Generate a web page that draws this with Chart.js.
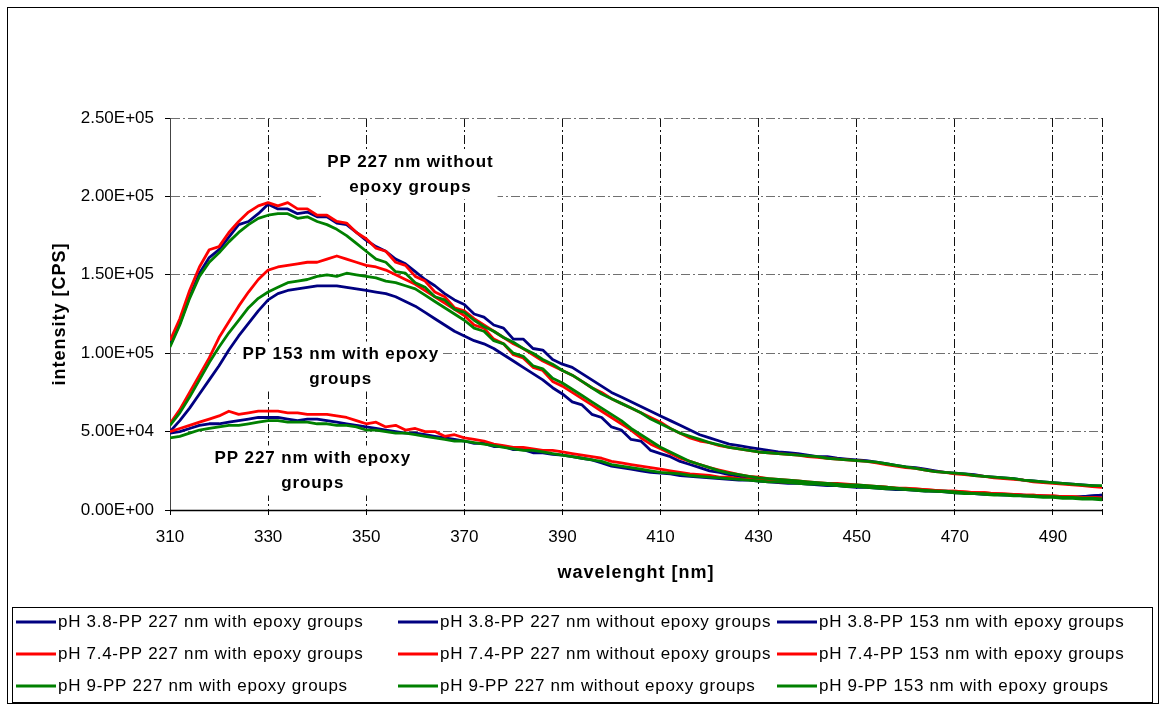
<!DOCTYPE html>
<html>
<head>
<meta charset="utf-8">
<title>Fluorescence spectra</title>
<script src="https://cdn.jsdelivr.net/npm/chart.js@4.4.1/dist/chart.umd.min.js"></script>
<style>
  html, body { margin: 0; padding: 0; background: #fff; }
  #wrap { position: relative; width: 1166px; height: 709px; }
</style>
</head>
<body>
<div id="wrap"><canvas id="myChart" width="1166" height="709"></canvas></div>
<script>
// wavelength [nm]
var wavelength = [
    310, 312, 314, 316, 318, 320, 322, 324, 326, 328,
    330, 332, 334, 336, 338, 340, 342, 344, 346, 348,
    350, 352, 354, 356, 358, 360, 362, 364, 366, 368,
    370, 372, 374, 376, 378, 380, 382, 384, 386, 388,
    390, 392, 394, 396, 398, 400, 402, 404, 406, 408,
    410, 412, 414, 416, 418, 420, 422, 424, 426, 428,
    430, 432, 434, 436, 438, 440, 442, 444, 446, 448,
    450, 452, 454, 456, 458, 460, 462, 464, 466, 468,
    470, 472, 474, 476, 478, 480, 482, 484, 486, 488,
    490, 492, 494, 496, 498, 500
];

// intensity, in thousands of CPS

// PP 227 nm with epoxy groups
var ph38_227_with = [
    49, 50, 52, 54, 55, 55, 56, 57, 58, 59,
    59, 59, 58, 57, 58, 58, 57, 56, 55, 54,
    53, 52, 51, 50, 49, 49, 48, 47, 46, 45,
    44, 42.5, 42.5, 40.5, 40.5, 38.5, 38.5, 36.5, 36.5, 35.5,
    35, 34, 33, 32, 30, 28, 27, 26, 25, 24,
    23.5, 23, 22, 21.5, 21, 20.5, 20, 19.5, 19, 19,
    18.5, 18, 17.5, 17, 17, 16.5, 16, 15.5, 15.5, 15,
    14.5, 14.5, 14, 13.5, 13, 13, 12.5, 12, 12, 11.5,
    11, 11, 10.5, 10, 10, 9.5, 9.5, 9, 9, 8.5,
    8.5, 8, 8, 8.5, 9, 9.5
];
var ph74_227_with = [
    50, 52, 54, 56, 58, 60, 63, 61, 62, 63,
    63, 63, 62, 62, 61, 61, 61, 60, 59, 57,
    55, 56, 53, 54, 51, 52, 50, 50, 47, 48,
    46, 45, 44, 42, 41, 40, 40, 39, 38, 38,
    37, 36, 35, 34, 33, 31, 30, 29, 28, 27,
    26, 25, 24, 23, 22.5, 22, 21, 21, 20, 19.5,
    19, 18.5, 18, 18, 17.5, 17, 17, 16.5, 16, 16,
    15.5, 15, 15, 14.5, 14, 13.5, 13.5, 13, 12.5, 12,
    12, 11.5, 11, 11, 10.5, 10, 10, 9.5, 9.5, 9,
    9, 8.5, 8.5, 8, 8, 7.5
];
var ph9_227_with = [
    46, 47, 49, 51, 52, 53, 54, 54, 55, 56,
    57, 57, 56, 56, 56, 55, 55, 54, 54, 53,
    51, 51, 50, 49, 49, 48, 47, 46, 45, 44,
    44, 43, 42, 41, 40, 39, 38, 38, 37, 36,
    35, 34, 33, 32, 31, 29, 28, 27, 26, 25,
    24, 23.5, 23, 22, 21.5, 21, 20.5, 20, 19.5, 19,
    18.5, 18, 18, 17.5, 17, 16.5, 16.5, 16, 15.5, 15,
    15, 14.5, 14, 13.5, 13.5, 13, 12.5, 12, 12, 11.5,
    11, 10.5, 10.5, 10, 9.5, 9.5, 9, 9, 8.5, 8,
    8, 7.5, 7.5, 7, 7, 6.5
];

// PP 227 nm without epoxy groups
var ph38_227_without = [
    105, 119, 136, 151, 161, 166, 174, 182, 184, 189,
    195, 192, 192, 189, 190, 187, 187, 183, 182, 177,
    172, 168, 165, 160, 157, 152, 147, 143, 138, 134,
    131, 125, 123, 118, 116, 109, 109, 103, 102, 96,
    93, 91, 87, 83, 79, 75, 72, 69, 66, 63,
    60, 57, 54, 51, 48, 46, 44, 42, 41, 40,
    39, 38, 37, 36.5, 36, 35, 34, 34, 33, 32.5,
    32, 31.5, 30.5, 29.5, 28.5, 27.5, 27, 26, 25, 24,
    23.5, 23, 22.5, 21.5, 21, 20.5, 20, 19, 18.5, 18,
    17.5, 17, 16.5, 16, 15.5, 15
];
var ph74_227_without = [
    108, 122, 140, 155, 166, 168, 177, 184, 190, 194,
    196, 194, 196, 192, 192, 188, 188, 184, 183, 177,
    173, 167, 165, 158, 156, 149, 146, 139, 136, 129,
    127, 122, 118, 114, 110, 106, 103, 99, 95, 92,
    89, 86, 82, 78, 75, 71, 68, 65, 62, 59,
    56, 52, 49, 46, 44, 43, 41, 40, 39, 38,
    37, 36.5, 36, 35.5, 35, 34, 33.5, 33, 32.5, 32,
    31.5, 31, 30, 29, 28, 27, 26.5, 25.5, 24.5, 24,
    23, 22.5, 22, 21.5, 20.5, 20, 19.5, 19, 18, 17.5,
    17, 16.5, 16, 15.5, 15, 14.5
];
var ph9_227_without = [
    104, 118, 135, 149, 158, 164, 171, 177, 182, 186,
    188, 189, 189, 186, 187, 184, 182, 179, 175, 170,
    165, 160, 158, 152, 151, 145, 142, 136, 134, 128,
    126, 121, 117, 114, 110, 107, 103, 100, 96, 93,
    89, 86, 82, 78, 74, 71, 68, 65, 62, 58,
    55, 52, 49, 47, 45, 43, 41.5, 40, 39, 38,
    37, 36.5, 36, 35.5, 35, 34.5, 34, 33, 32.5, 32,
    31.5, 31, 30.5, 29.5, 28.5, 27.5, 26.5, 25.5, 24.5, 24,
    23.5, 23, 22, 21.5, 21, 20.5, 20, 19, 18.5, 18,
    17.5, 17, 16.5, 16, 15.5, 15.5
];

// PP 153 nm with epoxy groups
var ph38_153_with = [
    50, 57, 65, 74, 83, 92, 102, 111, 119, 127,
    134, 138, 140, 141, 142, 143, 143, 143, 142, 141,
    140, 139, 138, 136, 133, 130, 126, 122, 118, 114,
    111, 108, 106, 103, 99, 95, 91, 87, 83, 78,
    74, 69, 67, 61, 59, 53, 51, 45, 44, 38,
    36, 34, 31, 29, 27, 25, 24, 22.5, 21.5, 20.5,
    19.5, 19, 18.5, 18, 17.5, 17, 17, 16.5, 16, 15.5,
    15.5, 15, 14.5, 14, 13.5, 13, 13, 12.5, 12, 12,
    11.5, 11, 11, 10.5, 10.5, 10, 10, 9.5, 9, 9,
    8.5, 8.5, 8, 8.5, 9, 9.5
];
var ph74_153_with = [
    55, 64, 75, 86, 97, 110, 120, 130, 139, 147,
    153, 155, 156, 157, 158, 158, 160, 162, 160, 158,
    156, 155, 153, 150, 147, 144, 140, 136, 132, 128,
    124, 118, 116, 109, 106, 99, 97, 91, 89, 82,
    79, 75, 71, 67, 63, 59, 55, 51, 46, 42,
    39, 36, 33, 31, 29, 27, 25.5, 24, 22.5, 21.5,
    21, 20, 19.5, 19, 18.5, 18, 17.5, 17, 17, 16.5,
    16, 15.5, 15, 14.5, 14, 14, 13.5, 13, 12.5, 12,
    12, 11.5, 11, 11, 10.5, 10.5, 10, 9.5, 9.5, 9,
    9, 8.5, 8.5, 8, 8, 7.5
];
var ph9_153_with = [
    54, 62, 72, 83, 94, 104, 113, 121, 129, 135,
    139, 142, 145, 146, 147, 149, 150, 149, 151, 150,
    149, 148, 146, 145, 143, 141, 137, 133, 129, 125,
    121, 116, 114, 108, 106, 100, 98, 92, 90, 84,
    81, 77, 73, 69, 65, 61, 57, 52, 48, 44,
    40, 37, 34, 31, 29, 27, 25, 23.5, 22.5, 21.5,
    20.5, 20, 19.5, 19, 18.5, 18, 17.5, 17, 16.5, 16,
    16, 15.5, 15, 14.5, 14, 13.5, 13, 12.5, 12, 12,
    11.5, 11, 10.5, 10.5, 10, 10, 9.5, 9, 9, 8.5,
    8.5, 8, 8, 7.5, 7.5, 7
];

var seriesNames = [
    'pH 3.8-PP 227 nm with epoxy groups', 'pH 3.8-PP 227 nm without epoxy groups', 'pH 3.8-PP 153 nm with epoxy groups',
    'pH 7.4-PP 227 nm with epoxy groups', 'pH 7.4-PP 227 nm without epoxy groups', 'pH 7.4-PP 153 nm with epoxy groups',
    'pH 9-PP 227 nm with epoxy groups', 'pH 9-PP 227 nm without epoxy groups', 'pH 9-PP 153 nm with epoxy groups'
];
var seriesValues = [
    ph38_227_with, ph38_227_without, ph38_153_with,
    ph74_227_with, ph74_227_without, ph74_153_with,
    ph9_227_with, ph9_227_without, ph9_153_with
];
var phColors = ['#000080', '#ff0000', '#008000'];

var xTicks = [310, 330, 350, 370, 390, 410, 430, 450, 470, 490, 500];
var yTicks = [0, 50, 100, 150, 200, 250];
var xTitle = 'wavelenght [nm]';
var yTitle = 'intensity [CPS]';

// text boxes inside the plot, anchored in data units
var notes = [
    { lines: ['PP 227 nm without', 'epoxy groups'], nm: 359, kcps: 214 },
    { lines: ['PP 153 nm with epoxy', 'groups'], nm: 344.8, kcps: 91.5 },
    { lines: ['PP 227 nm with epoxy', 'groups'], nm: 339.1, kcps: 25.2 }
];

var FONT = "'Liberation Sans', Arial, sans-serif";
var DASHDOT = [9, 3, 2, 3];

// 250 (kCPS) -> "2.50E+05"
function excelExp(v) {
    var s = (v * 1000).toExponential(2).split('e');
    var e = parseInt(s[1], 10);
    var sign = e < 0 ? '-' : '+';
    e = Math.abs(e);
    return s[0] + 'E' + sign + (e < 10 ? '0' + e : e);
}

function buildDatasets() {
    var sets = [];
    for (var i = 0; i < seriesValues.length; i++) {
        var pts = [];
        for (var j = 0; j < wavelength.length; j++) {
            pts.push({ x: wavelength[j], y: seriesValues[i][j] });
        }
        sets.push({
            label: seriesNames[i],
            data: pts,
            borderColor: phColors[Math.floor(i / 3)],
            backgroundColor: phColors[Math.floor(i / 3)],
            borderWidth: 2.8,
            pointRadius: 0,
            tension: 0,
            borderJoinStyle: 'round',
            order: seriesValues.length - i   // later series on top, like Excel
        });
    }
    return sets;
}

function spacing(ctx, px) {
    if ('letterSpacing' in ctx) ctx.letterSpacing = px + 'px';
}

// solid x axis line on top of the dashed zero grid line
const axisLinePlugin = {
    id: 'axisLine',
    beforeDatasetsDraw(chart) {
        const ctx = chart.ctx, a = chart.chartArea;
        const y0 = Math.round(chart.scales.y.getPixelForValue(0)) + 0.5;
        ctx.save();
        ctx.strokeStyle = '#000';
        ctx.lineWidth = 1.5;
        ctx.beginPath();
        ctx.moveTo(a.left, y0);
        ctx.lineTo(a.right, y0);
        ctx.stroke();
        ctx.restore();
    }
};

const notesPlugin = {
    id: 'notes',
    afterDatasetsDraw(chart) {
        const ctx = chart.ctx;
        const xs = chart.scales.x, ys = chart.scales.y;
        const lh = 25;
        ctx.save();
        ctx.font = 'bold 17px ' + FONT;
        spacing(ctx, 0.9);
        ctx.textAlign = 'center';
        ctx.textBaseline = 'middle';
        notes.forEach(function (n) {
            var x = xs.getPixelForValue(n.nm);
            var y = ys.getPixelForValue(n.kcps);
            var w = 0;
            n.lines.forEach(function (t) { w = Math.max(w, ctx.measureText(t).width); });
            var h = n.lines.length * lh;
            ctx.fillStyle = '#fff';
            ctx.fillRect(x - w / 2 - 4, y - h / 2, w + 8, h);
            ctx.fillStyle = '#000';
            n.lines.forEach(function (t, i) {
                ctx.fillText(t, x, y + (i - (n.lines.length - 1) / 2) * lh);
            });
        });
        ctx.restore();
    }
};

// axis titles, outer frame and the 3x3 legend box at the bottom
const frameLegendPlugin = {
    id: 'frameLegend',
    afterDraw(chart) {
        const ctx = chart.ctx;
        const a = chart.chartArea;
        const sets = chart.data.datasets;
        const colX = [16, 398, 777];
        const rowY = [622, 654, 686];
        ctx.save();

        ctx.fillStyle = '#000';
        ctx.font = 'bold 18px ' + FONT;
        spacing(ctx, 1);
        ctx.textAlign = 'center';
        ctx.textBaseline = 'middle';
        ctx.fillText(xTitle, (a.left + a.right) / 2, 573);
        ctx.save();
        ctx.translate(60, (a.top + a.bottom) / 2);
        ctx.rotate(-Math.PI / 2);
        ctx.fillText(yTitle, 0, 0);
        ctx.restore();

        ctx.strokeStyle = '#000';
        ctx.lineWidth = 1;
        ctx.strokeRect(7.5, 7.5, 1151, 696);
        ctx.strokeRect(12.5, 607.5, 1140, 95);

        ctx.font = '17px ' + FONT;
        spacing(ctx, 0.7);
        ctx.textAlign = 'left';
        for (var i = 0; i < sets.length; i++) {
            var x = colX[i % 3], y = rowY[Math.floor(i / 3)];
            ctx.strokeStyle = sets[i].borderColor;
            ctx.lineWidth = 2.8;
            ctx.beginPath();
            ctx.moveTo(x, y);
            ctx.lineTo(x + 40, y);
            ctx.stroke();
            ctx.fillStyle = '#000';
            ctx.fillText(sets[i].label, x + 42, y);
        }
        ctx.restore();
    }
};

const ctx = document.getElementById('myChart');

new Chart(ctx, {
    type: 'line',
    data: { datasets: buildDatasets() },
    options: {
        responsive: false,
        animation: false,
        devicePixelRatio: 1,
        layout: { padding: { left: 0, top: 118, right: 64, bottom: 0 } },
        plugins: {
            legend: { display: false },
            tooltip: { enabled: false }
        },
        scales: {
            x: {
                type: 'linear',
                min: 310,
                max: 500,
                afterBuildTicks: function (scale) {
                    scale.ticks = xTicks.map(function (v) { return { value: v }; });
                },
                afterFit: function (scale) { scale.height = 199; },
                ticks: {
                    autoSkip: false,
                    maxRotation: 0,
                    padding: 12,
                    color: '#000',
                    font: { family: FONT, size: 17 },
                    callback: function (v) { return v === 500 ? '' : v; }
                },
                grid: {
                    color: '#111',
                    lineWidth: 1,
                    tickLength: 5,
                    tickColor: '#000',
                    tickBorderDash: []
                },
                border: { display: false, dash: DASHDOT }
            },
            y: {
                min: 0,
                max: 250,
                afterBuildTicks: function (scale) {
                    scale.ticks = yTicks.map(function (v) { return { value: v }; });
                },
                afterFit: function (scale) { scale.width = 170; },
                ticks: {
                    padding: 11,
                    color: '#000',
                    font: { family: FONT, size: 17 },
                    callback: function (v) { return excelExp(v); }
                },
                grid: {
                    color: '#707070',
                    lineWidth: 1,
                    tickLength: 5,
                    tickColor: '#000',
                    tickBorderDash: []
                },
                border: { display: true, color: '#444', width: 1, dash: DASHDOT }
            }
        }
    },
    plugins: [axisLinePlugin, notesPlugin, frameLegendPlugin]
});
</script>
</body>
</html>
